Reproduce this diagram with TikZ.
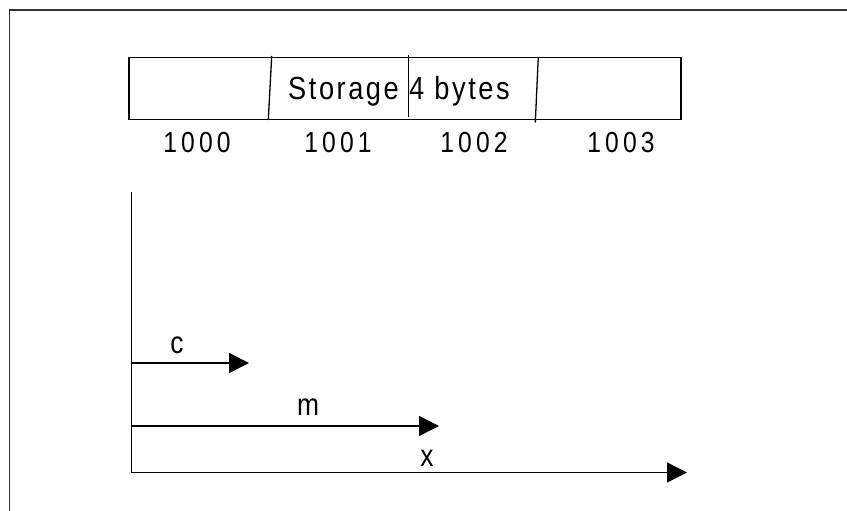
\documentclass[tikz,border=0pt]{standalone}
\usepackage{fontspec}
\usetikzlibrary{arrows.meta}
\newfontfamily\lblfont{Liberation Sans}[FakeStretch=0.85,LetterSpace=8]
\newfontfamily\addrfont{Liberation Sans}[FakeStretch=0.85,LetterSpace=14]
\begin{document}
\begin{tikzpicture}[x=1pt,y=-1pt,
  frame/.style={line width=1.4pt,black!80},
  thin/.style={line width=1.3pt},
  arr/.style={line width=1.4pt,-{Triangle[length=20pt,width=20pt]}},
  boxtext/.style={inner sep=0pt,anchor=base west,font=\lblfont\fontsize{32}{32}\selectfont},
  addr/.style={inner sep=0pt,anchor=base,font=\addrfont\fontsize{29}{29}\selectfont},
  vlabel/.style={inner sep=0pt,anchor=base,font=\lblfont\fontsize{31}{31}\selectfont}]
\useasboundingbox (0,0) rectangle (847,511);
\fill[white] (0,0) rectangle (847,511);
% outer frame (only top and left visible)
\coordinate (ftl) at (9.5,10);
\coordinate (ftr) at (847,10);
\coordinate (fbl) at (9.5,511);
\draw[frame] (ftr) -- (ftl) -- (fbl);
% memory box
\node (mem) [draw,thin,inner sep=0pt,minimum width=552pt,minimum height=62.5pt] at (405,88.5) {};
\draw[thin] (271.7,56) -- (268.3,120);
\draw[thin] (408.3,55) -- (408.3,117);
\draw[thin] (538.3,57) -- (535.3,122.5);
\node (st) [boxtext] at (288,99.5) {Storage};
\node (sb) [boxtext] at (409,99.5) {4 bytes};
% addresses
\node (a0) [addr] at (197,152.5) {1000};
\node (a1) [addr] at (338,152.5) {1001};
\node (a2) [addr] at (474,152.5) {1002};
\node (a3) [addr] at (621,152.5) {1003};
% axis
\coordinate (top) at (131.5,192);
\coordinate (bot) at (131.5,473);
\draw[thin] (top) -- (bot);
\coordinate (oc) at (131.5,363);
\coordinate (ec) at (249,363);
\coordinate (om) at (131.5,426);
\coordinate (em) at (439,426);
\coordinate (ox) at (131.5,472.5);
\coordinate (ex) at (687,472.5);
\draw[arr] (oc) -- (ec);
\draw[arr] (om) -- (em);
\draw[arr] (ox) -- (ex);
\node (lc) [vlabel] at (177,353) {c};
\node (lm) [vlabel] at (308,415.5) {m};
\node (lx) [vlabel] at (427,466) {x};
\end{tikzpicture}
\end{document}
